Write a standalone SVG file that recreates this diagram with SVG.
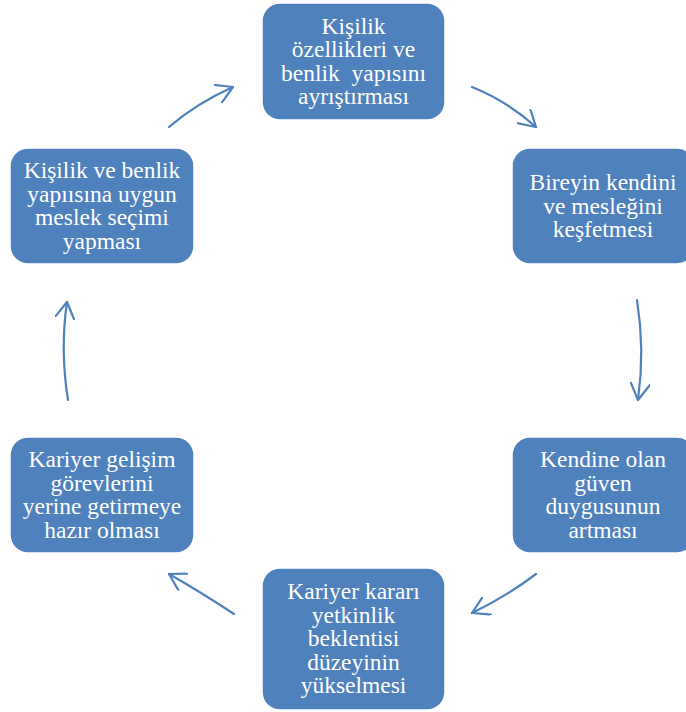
<svg xmlns="http://www.w3.org/2000/svg" width="686" height="712" viewBox="0 0 686 712">
<style>
.box{fill:#4F81BD;stroke:#FFFFFF;stroke-width:1.5}
.c{fill:none;stroke:#4F81BD;stroke-width:2.2;stroke-linecap:round}
</style>
<defs>
<marker id="ah" viewBox="0 0 20 20" refX="17" refY="10" markerWidth="20" markerHeight="20" markerUnits="userSpaceOnUse" orient="auto">
<path d="M0,0 L17,10 L0,20" fill="none" stroke="#4F81BD" stroke-width="2.2" stroke-linecap="round" stroke-linejoin="round"/>
</marker>
</defs>
<rect width="686" height="712" fill="#FFFFFF"/>
<g id="connectors">
<path class="c" d="M169,127 Q197,103 233,87" marker-end="url(#ah)"/>
<path class="c" d="M472,87 Q507,101 536,127" marker-end="url(#ah)"/>
<path class="c" d="M637,300 Q645,350 638,400" marker-end="url(#ah)"/>
<path class="c" d="M536,574 Q507,596 472,613" marker-end="url(#ah)"/>
<path class="c" d="M234,614 Q199,591 169,574" marker-end="url(#ah)"/>
<path class="c" d="M68,400 Q60,350 67,302" marker-end="url(#ah)"/>
</g>
<g font-family="'Liberation Serif', 'Times New Roman', serif" font-size="23.5" fill="#FFFFFF" text-anchor="middle">
<g id="n1">
<rect class="box" x="262" y="3" width="183" height="117" rx="18"/>
<text x="353.5" y="33.5">Kişilik</text>
<text x="353.5" y="57">özellikleri ve</text>
<text x="353.5" y="80.5" xml:space="preserve">benlik  yapısını</text>
<text x="353.5" y="104">ayrıştırması</text>
</g>
<g id="n2">
<rect class="box" x="512" y="148" width="183" height="116" rx="18"/>
<text x="603" y="190">Bireyin kendini</text>
<text x="603" y="213.5">ve mesleğini</text>
<text x="603" y="237">keşfetmesi</text>
</g>
<g id="n3">
<rect class="box" x="512" y="437" width="183" height="116" rx="18"/>
<text x="603" y="467">Kendine olan</text>
<text x="603" y="490.5">güven</text>
<text x="603" y="514">duygusunun</text>
<text x="603" y="537.5">artması</text>
</g>
<g id="n4">
<rect class="box" x="262" y="568" width="183" height="142" rx="18"/>
<text x="353.5" y="599">Kariyer kararı</text>
<text x="353.5" y="622.5">yetkinlik</text>
<text x="353.5" y="646">beklentisi</text>
<text x="353.5" y="669.5">düzeyinin</text>
<text x="353.5" y="693">yükselmesi</text>
</g>
<g id="n5">
<rect class="box" x="10" y="437" width="184" height="116" rx="18"/>
<text x="102" y="467">Kariyer gelişim</text>
<text x="102" y="490.5">görevlerini</text>
<text x="102" y="514">yerine getirmeye</text>
<text x="102" y="537.5">hazır olması</text>
</g>
<g id="n6">
<rect class="box" x="10" y="148" width="184" height="116" rx="18"/>
<text x="102" y="178">Kişilik ve benlik</text>
<text x="102" y="201.5">yapıısına uygun</text>
<text x="102" y="225">meslek seçimi</text>
<text x="102" y="248.5">yapması</text>
</g>
</g>
</svg>
